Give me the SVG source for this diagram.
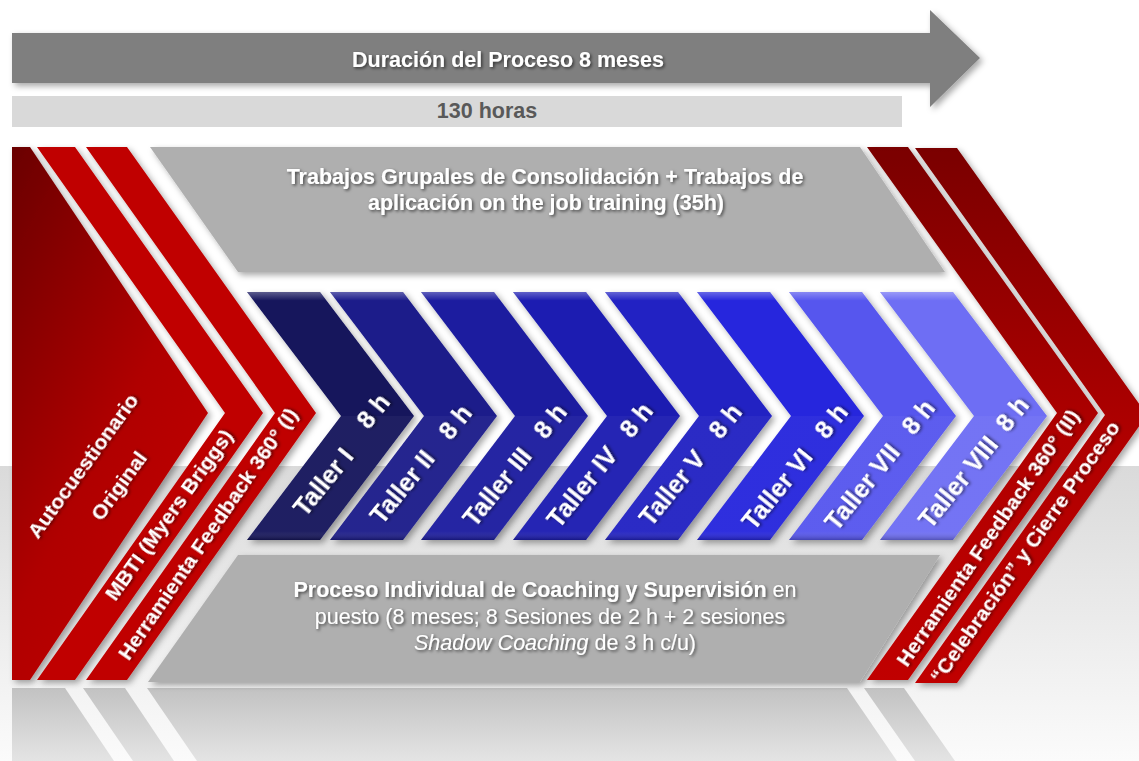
<svg xmlns="http://www.w3.org/2000/svg" width="1139" height="761" viewBox="0 0 1139 761">
<defs>
<style>
.t{font-family:"Liberation Sans",Arial,sans-serif;font-weight:bold;fill:#fff;}
.lbl{font-size:21px;text-anchor:middle;}
.tl{font-size:25px;text-anchor:middle;}
.bt{font-size:21.5px;text-anchor:middle;}
.band{fill:#afafaf;}
.red{fill:#c00000;}
</style>
<linearGradient id="floor" x1="0" y1="0" x2="0" y2="1">
<stop offset="0" stop-color="#dadada"/>
<stop offset="1" stop-color="#fbfbfb"/>
</linearGradient>
<linearGradient id="refl" gradientUnits="userSpaceOnUse" x1="0" y1="688" x2="0" y2="761">
<stop offset="0" stop-color="#c2c2c2"/>
<stop offset="1" stop-color="#e4e4e4"/>
</linearGradient>
<linearGradient id="redA" x1="0" y1="0" x2="0.7" y2="1">
<stop offset="0" stop-color="#6a0000"/>
<stop offset="0.6" stop-color="#b00000"/>
<stop offset="1" stop-color="#c20000"/>
</linearGradient>
<linearGradient id="redR" x1="0" y1="0" x2="0" y2="1">
<stop offset="0" stop-color="#7a0000"/>
<stop offset="0.55" stop-color="#b00000"/>
<stop offset="1" stop-color="#c00000"/>
</linearGradient>
<linearGradient id="bevel" x1="0" y1="0" x2="0" y2="1">
<stop offset="0" stop-color="#fff" stop-opacity="0.3"/>
<stop offset="0.035" stop-color="#fff" stop-opacity="0"/>
<stop offset="0.5" stop-color="#fff" stop-opacity="0"/>
<stop offset="0.5" stop-color="#fff" stop-opacity="0.04"/>
<stop offset="0.965" stop-color="#fff" stop-opacity="0.04"/>
<stop offset="1" stop-color="#000" stop-opacity="0.25"/>
</linearGradient>
<filter id="sh" x="-10%" y="-10%" width="130%" height="130%">
<feDropShadow dx="3" dy="3" stdDeviation="3" flood-color="#000" flood-opacity="0.35"/>
</filter>
<filter id="ts" x="-10%" y="-30%" width="130%" height="180%">
<feDropShadow dx="1.5" dy="1.5" stdDeviation="1.4" flood-color="#000" flood-opacity="0.6"/>
</filter>
</defs>

<rect x="0" y="0" width="1139" height="761" fill="#fff"/>
<rect x="0" y="466" width="1139" height="295" fill="url(#floor)"/>

<g id="reflections" fill="url(#refl)">
<polygon points="12,688 65,688 114,761 12,761"/>
<polygon points="83,688 125,688 174,761 133,761"/>
<polygon points="147,688 847,688 897,761 197,761"/>
<polygon points="864,688 904,688 955,761 915,761"/>
</g>

<g id="duration-arrow">
<polygon points="12,33 930,33 930,10 980,58 930,107 930,83 12,83" fill="#7f7f7f" filter="url(#sh)"/>
<text class="t bt" x="508" y="67" filter="url(#ts)">Duración del Proceso 8 meses</text>
</g>

<g id="hours-bar">
<rect x="12" y="96" width="890" height="31" fill="#d9d9d9"/>
<text x="487" y="118" font-family="Liberation Sans, Arial, sans-serif" font-weight="bold" font-size="21.5" fill="#595959" text-anchor="middle">130 horas</text>
</g>

<g id="trabajos-grupales">
<polygon class="band" points="150,147 860,147 945,272 238,272" filter="url(#sh)"/>
<text class="t bt" filter="url(#ts)"><tspan x="545" y="184">Trabajos Grupales de Consolidación + Trabajos de</tspan><tspan x="546" y="210">aplicación on the job training (35h)</tspan></text>
</g>

<g id="proceso-individual">
<polygon class="band" points="238,555 940,555 860,682 148,682" filter="url(#sh)"/>
<text class="t bt" filter="url(#ts)"><tspan x="545" y="597">Proceso Individual de Coaching y Supervisión<tspan font-weight="normal"> en</tspan></tspan><tspan x="550" y="624" font-weight="normal">puesto (8 meses; 8 Sesiones de 2 h + 2 sesiones</tspan><tspan x="555" y="650" font-weight="normal"><tspan font-style="italic">Shadow Coaching</tspan> de 3 h c/u)</tspan></text>
</g>

<g id="autocuestionario">
<polygon points="12,147 30,147 208,413 30,680 12,680" fill="url(#redA)" filter="url(#sh)"/>
<text class="t lbl" transform="translate(83,466) rotate(-54)" y="7" filter="url(#ts)">Autocuestionario</text>
<text class="t lbl" transform="translate(119,486) rotate(-54)" y="7" filter="url(#ts)">Original</text>
</g>

<g id="mbti">
<polygon class="red" points="37,147 75,147 263,413 75,680 37,680 225,413" filter="url(#sh)"/>
<text class="t lbl" transform="translate(169,515) rotate(-54.5)" y="7" filter="url(#ts)">MBTI (Myers Briggs)</text>
</g>

<g id="feedback-1">
<polygon class="red" points="86,147 127,147 316,413 127,680 86,680 275,413" filter="url(#sh)"/>
<text class="t lbl" transform="translate(208,534) rotate(-55.5)" y="7" filter="url(#ts)">Herramienta Feedback 360° (I)</text>
</g>

<g id="taller-1">
<polygon fill="#13135c" points="247,292 320,292 414,416 320,540 247,540 341,416" filter="url(#sh)"/>
<polygon fill="url(#bevel)" points="247,292 320,292 414,416 320,540 247,540 341,416"/>
<text class="t tl" transform="translate(323,482) rotate(-51)" y="9" filter="url(#ts)">Taller I</text>
<text class="t tl" transform="translate(373,411) rotate(-51)" y="9" filter="url(#ts)">8 h</text>
</g>
<g id="taller-2">
<polygon fill="#1b1b8a" points="330,292 403,292 497,416 403,540 330,540 424,416" filter="url(#sh)"/>
<polygon fill="url(#bevel)" points="330,292 403,292 497,416 403,540 330,540 424,416"/>
<text class="t tl" transform="translate(402,487) rotate(-51)" y="9" filter="url(#ts)">Taller II</text>
<text class="t tl" transform="translate(455,422) rotate(-51)" y="9" filter="url(#ts)">8 h</text>
</g>
<g id="taller-3">
<polygon fill="#1d1d9f" points="421,292 494,292 588,416 494,540 421,540 515,416" filter="url(#sh)"/>
<polygon fill="url(#bevel)" points="421,292 494,292 588,416 494,540 421,540 515,416"/>
<text class="t tl" transform="translate(497,487) rotate(-51)" y="9" filter="url(#ts)">Taller III</text>
<text class="t tl" transform="translate(550,421) rotate(-51)" y="9" filter="url(#ts)">8 h</text>
</g>
<g id="taller-4">
<polygon fill="#1f1fb1" points="513,292 586,292 680,416 586,540 513,540 607,416" filter="url(#sh)"/>
<polygon fill="url(#bevel)" points="513,292 586,292 680,416 586,540 513,540 607,416"/>
<text class="t tl" transform="translate(582,487) rotate(-51)" y="9" filter="url(#ts)">Taller IV</text>
<text class="t tl" transform="translate(636,420) rotate(-51)" y="9" filter="url(#ts)">8 h</text>
</g>
<g id="taller-5">
<polygon fill="#2121c3" points="605,292 678,292 772,416 678,540 605,540 699,416" filter="url(#sh)"/>
<polygon fill="url(#bevel)" points="605,292 678,292 772,416 678,540 605,540 699,416"/>
<text class="t tl" transform="translate(672,488) rotate(-51)" y="9" filter="url(#ts)">Taller V</text>
<text class="t tl" transform="translate(725,421) rotate(-51)" y="9" filter="url(#ts)">8 h</text>
</g>
<g id="taller-6">
<polygon fill="#2626dd" points="697,292 770,292 864,416 770,540 697,540 791,416" filter="url(#sh)"/>
<polygon fill="url(#bevel)" points="697,292 770,292 864,416 770,540 697,540 791,416"/>
<text class="t tl" transform="translate(777,489) rotate(-51)" y="9" filter="url(#ts)">Taller VI</text>
<text class="t tl" transform="translate(831,421) rotate(-51)" y="9" filter="url(#ts)">8 h</text>
</g>
<g id="taller-7">
<polygon fill="#5656ee" points="789,292 862,292 956,416 862,540 789,540 883,416" filter="url(#sh)"/>
<polygon fill="url(#bevel)" points="789,292 862,292 956,416 862,540 789,540 883,416"/>
<text class="t tl" transform="translate(862,487) rotate(-51)" y="9" filter="url(#ts)">Taller VII</text>
<text class="t tl" transform="translate(918,417) rotate(-51)" y="9" filter="url(#ts)">8 h</text>
</g>
<g id="taller-8">
<polygon fill="#6e6ef4" points="880,292 953,292 1047,416 953,540 880,540 974,416" filter="url(#sh)"/>
<polygon fill="url(#bevel)" points="880,292 953,292 1047,416 953,540 880,540 974,416"/>
<text class="t tl" transform="translate(958,482) rotate(-51)" y="9" filter="url(#ts)">Taller VIII</text>
<text class="t tl" transform="translate(1012,414) rotate(-51)" y="9" filter="url(#ts)">8 h</text>
</g>

<g id="feedback-2">
<polygon fill="url(#redR)" points="867,147 908,147 1098,413 908,680 867,680 1057,413" filter="url(#sh)"/>
<text class="t lbl" transform="translate(988,538) rotate(-55.5)" y="7" filter="url(#ts)">Herramienta Feedback 360° (II)</text>
</g>

<g id="cierre">
<polygon fill="url(#redR)" points="915,148 957,148 1147,415 957,683 915,683 1105,415" filter="url(#sh)"/>
<text class="t lbl" transform="translate(1025,552) rotate(-55)" y="7" filter="url(#ts)">“Celebración” y Cierre Proceso</text>
</g>
</svg>
